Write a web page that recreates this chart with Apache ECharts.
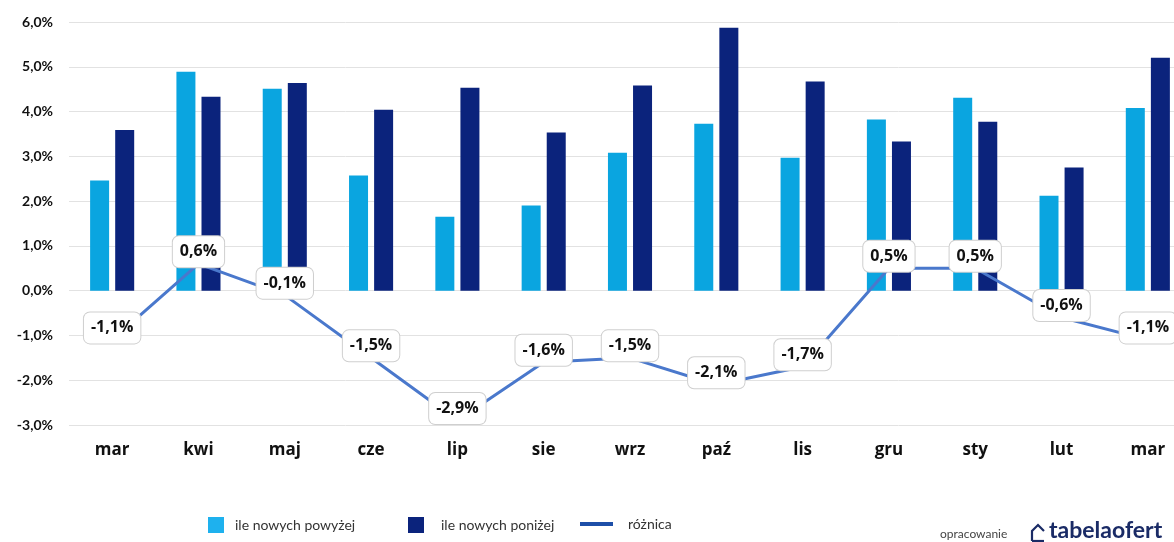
<!DOCTYPE html>
<html><head><meta charset="utf-8">
<script src="https://cdn.jsdelivr.net/npm/echarts@6/dist/echarts.min.js"></script>
<style>html,body{margin:0;padding:0;background:#fff}#c{width:1174px;height:542px}</style>
</head><body><div id="c"></div>
<script>
const categories = ['mar','kwi','maj','cze','lip','sie','wrz','paź','lis','gru','sty','lut','mar'];
const above = [2.46, 4.89, 4.51, 2.57, 1.65, 1.90, 3.08, 3.73, 2.97, 3.82, 4.31, 2.12, 4.08];
const below = [3.59, 4.33, 4.64, 4.04, 4.53, 3.53, 4.58, 5.87, 4.67, 3.33, 3.77, 2.75, 5.20];
const diff  = [-1.1, 0.6, -0.1, -1.5, -2.9, -1.6, -1.5, -2.1, -1.7, 0.5, 0.5, -0.6, -1.1];
const names = ['ile nowych powyżej', 'ile nowych poniżej', 'różnica'];

const FONT = 'Lato, "Open Sans", sans-serif';
const BFONT = '"Open Sans", Lato, sans-serif';
const pct = v => v.toFixed(1).replace('.', ',') + '%';
const chart = echarts.init(document.getElementById('c'));
chart.setOption({
  animation: false,
  grid: { left: 69, width: 1122, top: 22, bottom: 117, outerBoundsMode: 'none', containLabel: false },
  xAxis: {
    type: 'category', data: categories,
    axisLine: { show: false }, axisTick: { show: false },
    axisLabel: { margin: 17, color: '#111', fontSize: 17, fontWeight: 'bold', fontFamily: BFONT }
  },
  yAxis: {
    type: 'value', min: -3, max: 6, interval: 1,
    axisLine: { show: false }, axisTick: { show: false },
    splitLine: { lineStyle: { color: '#e2e2e2', width: 1 } },
    axisLabel: { margin: 16, color: '#111', fontSize: 14, fontWeight: 'bold', fontFamily: FONT, formatter: pct }
  },
  legend: [
    { left: 203, top: 512, itemWidth: 16, itemHeight: 16, data: [{ name: names[0], icon: 'rect', itemStyle: { color: '#1eb1ee' } }],
      textStyle: { fontSize: 14, color: '#333', fontFamily: FONT, padding: [0, 0, 0, 6] } },
    { left: 403, top: 512, itemWidth: 16, itemHeight: 16, data: [{ name: names[1], icon: 'rect', itemStyle: { color: '#0b237c' } }],
      textStyle: { fontSize: 14, color: '#333', fontFamily: FONT, padding: [0, 0, 0, 12] } },
    { left: 575, top: 512, itemWidth: 33, itemHeight: 4, data: [{ name: names[2], icon: 'rect', itemStyle: { color: '#1d4fa8' } }],
      textStyle: { fontSize: 14, color: '#333', fontFamily: FONT, padding: [0, 0, 0, 10] } }
  ],
  series: [
    { name: names[0], type: 'bar', data: above, barWidth: 19, barGap: '32%',
      itemStyle: { color: '#0aa5e0' } },
    { name: names[1], type: 'bar', data: below, barWidth: 19,
      itemStyle: { color: '#0b237c' } },
    { name: names[2], type: 'line', data: diff, symbol: 'circle', symbolSize: 0, showSymbol: true, z: 5,
      lineStyle: { color: '#4a78cc', width: 3 }, itemStyle: { color: '#4a78cc' },
      label: { show: true, position: 'inside', offset: [0, -12], formatter: p => pct(p.value),
        backgroundColor: '#fff', borderColor: '#cfcfcf', borderWidth: 1, borderRadius: 6,
        padding: [8, 7, 7, 7], color: '#111', fontSize: 16, fontWeight: 'bold', fontFamily: BFONT } }
  ],
  graphic: [
    { type: 'text', left: 940, top: 528, style: { text: 'opracowanie', fontSize: 12, fill: '#444', fontFamily: FONT } },
    { type: 'polyline', shape: { points: [[1032,541],[1032,531],[1038,525],[1044,531]] }, style: { stroke: '#1a2b66', lineWidth: 2.2, fill: null } },
    { type: 'line', shape: { x1: 1032, y1: 541, x2: 1044, y2: 541 }, style: { stroke: '#1a2b66', lineWidth: 2.2 } },
    { type: 'text', left: 1049, top: 519, style: { text: 'tabelaofert', fontSize: 23, fontWeight: 'bold', fill: '#1a2b66', fontFamily: FONT } }
  ]
});
</script></body></html>
